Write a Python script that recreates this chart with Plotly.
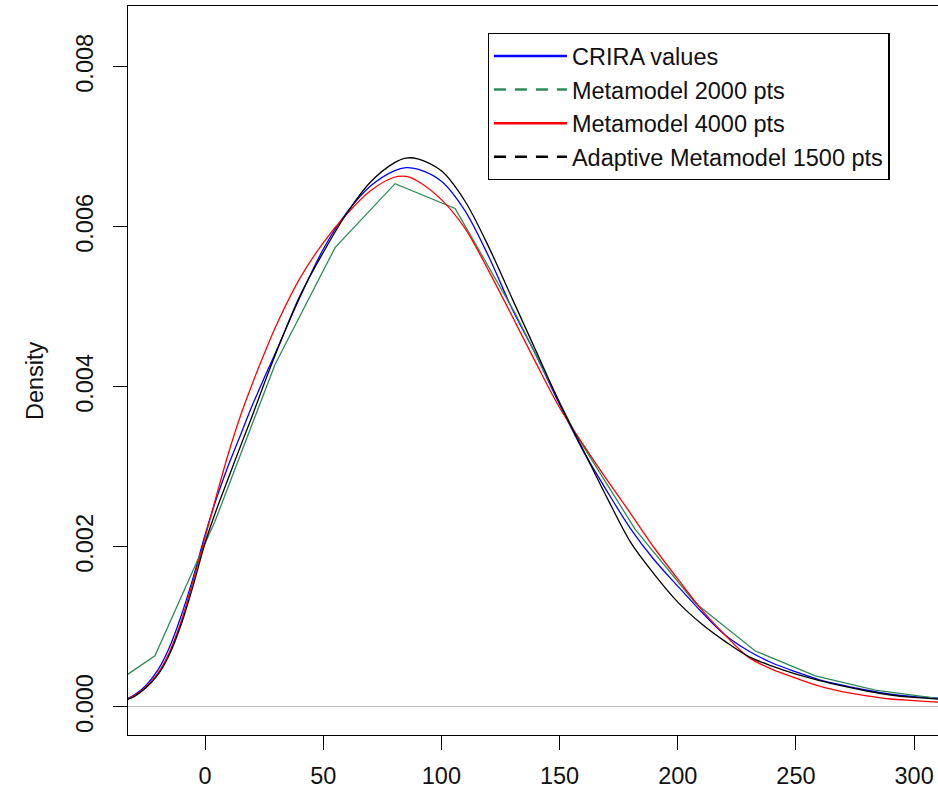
import plotly.graph_objects as go

# ---- data ----
x_grid = [-35, -30, -25, -20, -15, -10, -5, 0, 5, 10, 15, 20, 25, 30, 40, 50, 60, 70, 80, 85,
          90, 100, 110, 120, 130, 140, 150, 160, 170, 180, 190, 200, 210, 220, 230, 240, 250,
          260, 270, 280, 290, 300, 310, 315]

crira = [0.00008, 0.00015, 0.00027, 0.00046, 0.00075, 0.00115, 0.00162, 0.00215, 0.00262, 0.00303,
         0.00340, 0.00377, 0.00411, 0.00444, 0.00511, 0.00572, 0.00618, 0.00651, 0.00670, 0.00674,
         0.00672, 0.00657, 0.00620, 0.00563, 0.00497, 0.00440, 0.00378, 0.00320, 0.00270, 0.00223,
         0.00184, 0.00151, 0.00119, 0.00090, 0.00070, 0.00055, 0.00044, 0.00034, 0.00027, 0.00021,
         0.00016, 0.00013, 0.00011, 0.00010]

meta4000 = [0.00007, 0.00014, 0.00025, 0.00042, 0.00069, 0.00108, 0.00158, 0.00212, 0.00266, 0.00318,
            0.00364, 0.00404, 0.00441, 0.00476, 0.00535, 0.00580, 0.00616, 0.00645, 0.00662, 0.00663,
            0.00657, 0.00634, 0.00598, 0.00545, 0.00488, 0.00430, 0.00374, 0.00328, 0.00284, 0.00242,
            0.00199, 0.00160, 0.00122, 0.00090, 0.00062, 0.00047, 0.00036, 0.00026, 0.00019, 0.00014,
            0.00010, 0.00008, 0.00006, 0.00005]

adaptive1500 = [0.00007, 0.00013, 0.00024, 0.00040, 0.00066, 0.00104, 0.00152, 0.00205, 0.00248, 0.00287,
                0.00326, 0.00364, 0.00404, 0.00442, 0.00513, 0.00568, 0.00617, 0.00656, 0.00680, 0.00686,
                0.00685, 0.00670, 0.00632, 0.00575, 0.00510, 0.00445, 0.00380, 0.00321, 0.00262, 0.00206,
                0.00166, 0.00131, 0.00104, 0.00082, 0.00063, 0.00051, 0.00041, 0.00033, 0.00026, 0.00020,
                0.00015, 0.00012, 0.00010, 0.00009]

# Metamodel 2000 pts is a coarse, piecewise linear density
x_meta2000 = [-46.6, -21.2, 4.2, 29.6, 55.0, 80.4, 105.8, 131.2, 156.6, 182.0, 207.4, 232.8, 258.2,
              283.6, 309.0, 334.4]
meta2000 = [0.00013, 0.00064, 0.00232, 0.00428, 0.00574, 0.00654, 0.00623, 0.00492, 0.00342, 0.00222,
            0.00130, 0.00070, 0.00039, 0.00021, 0.00011, 0.00007]

x_ticks = [0, 50, 100, 150, 200, 250, 300]
y_ticks = [0.000, 0.002, 0.004, 0.006, 0.008]

legend_names = ["CRIRA values", "Metamodel 2000 pts", "Metamodel 4000 pts", "Adaptive Metamodel 1500 pts"]
colors = ["#0000FF", "#2E8B57", "#FF0000", "#000000"]

FONT = "Liberation Sans, Arial, sans-serif"
FS = 23.5

fig = go.Figure()

# curves (no legend), drawn in R's order
fig.add_trace(go.Scatter(x=x_grid, y=crira, mode="lines", showlegend=False,
                         line=dict(color=colors[0], width=1.3, shape="spline", smoothing=0.9)))
fig.add_trace(go.Scatter(x=x_meta2000, y=meta2000, mode="lines", showlegend=False,
                         line=dict(color=colors[1], width=1.3)))
fig.add_trace(go.Scatter(x=x_grid, y=meta4000, mode="lines", showlegend=False,
                         line=dict(color=colors[2], width=1.3, shape="spline", smoothing=0.9)))
fig.add_trace(go.Scatter(x=x_grid, y=adaptive1500, mode="lines", showlegend=False,
                         line=dict(color=colors[3], width=1.3, shape="spline", smoothing=0.9)))

# legend entries (as in the reference legend: solid / dashed thicker lines)
dashes = ["solid", "12px,9px", "solid", "12px,9px"]
for name, col, dsh in zip(legend_names, colors, dashes):
    fig.add_trace(go.Scatter(x=[None], y=[None], mode="lines", name=name,
                             line=dict(color=col, width=2.5, dash=dsh)))

fig.update_layout(
    width=938, height=792,
    margin=dict(l=128, r=0, t=6, b=57),
    paper_bgcolor="white", plot_bgcolor="white",
    font=dict(family=FONT, size=FS, color="black"),
    showlegend=True,
    legend=dict(x=0.444, y=0.963, xanchor="left", yanchor="top",
                bgcolor="white", bordercolor="black", borderwidth=1.3,
                font=dict(family=FONT, size=FS, color="#111111"),
                itemwidth=73, tracegroupgap=0),
)

fig.update_xaxes(range=[-32.6, 310.1], tickvals=x_ticks, ticktext=[str(v) for v in x_ticks],
                 showgrid=False, zeroline=False, showline=True, linecolor="black", linewidth=1.3,
                 mirror=True, ticks="outside", ticklen=14, tickwidth=1.3, tickcolor="black",
                 tickfont=dict(family=FONT, size=FS, color="#111111"), ticklabelstandoff=6)

fig.update_yaxes(range=[-0.00035, 0.00876], tickvals=y_ticks, ticktext=[f"{v:.3f}" for v in y_ticks],
                 showgrid=False, zeroline=True, zerolinecolor="#BEBEBE", zerolinewidth=1.3,
                 showline=True, linecolor="black", linewidth=1.3, mirror=False,
                 ticks="outside", ticklen=14, tickwidth=1.3, tickcolor="black",
                 tickangle=-90, tickfont=dict(family=FONT, size=FS, color="#111111"),
                 ticklabelstandoff=10)

fig.add_annotation(text="Density", xref="paper", yref="paper", x=-0.1148, y=0.4856,
                   xanchor="center", yanchor="middle", textangle=-90, showarrow=False,
                   font=dict(family=FONT, size=FS, color="#111111"))

fig.write_html("out.html")
